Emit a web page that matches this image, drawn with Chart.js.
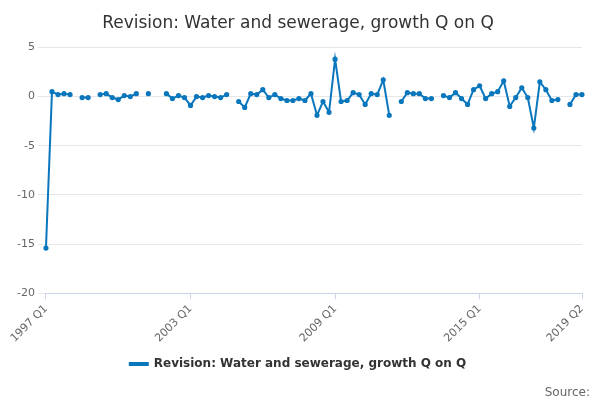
<!DOCTYPE html>
<html><head><meta charset="utf-8">
<script src="https://cdn.jsdelivr.net/npm/chart.js@4/dist/chart.umd.min.js"></script>
<style>body{margin:0;background:#fff}#w{position:relative;width:600px;height:400px}</style>
</head><body><div id="w"><canvas id="c" width="600" height="400"></canvas></div>
<script>
const startYear = 1997, count = 90;
const tickIdx = [0, 24, 48, 72, 89];
const values = [
-15.4,0.5,0.2,0.3,0.2,null,-0.1,-0.1,null,0.2,
0.3,-0.1,-0.3,0.1,0,0.3,null,0.3,null,null,
0.3,-0.2,0.1,-0.1,-0.9,0,-0.1,0.1,0,-0.1,
0.2,null,-0.5,-1.1,0.3,0.2,0.7,-0.1,0.2,-0.2,
-0.4,-0.4,-0.2,-0.4,0.3,-1.9,-0.5,-1.6,3.8,-0.5,
-0.4,0.4,0.2,-0.8,0.3,0.2,1.7,-1.9,null,-0.5,
0.4,0.3,0.3,-0.2,-0.2,null,0.1,-0.1,0.4,-0.2,
-0.8,0.7,1.1,-0.2,0.3,0.5,1.6,-1.0,-0.1,0.9,
-0.1,-3.2,1.5,0.7,-0.4,-0.3,null,-0.8,0.2,0.2];
const labels = [];
for (let i = 0; i < count; i++) labels.push((startYear + Math.floor(i/4)) + ' Q' + (i%4+1));
const F = "'DejaVu Sans', sans-serif";
new Chart(document.getElementById('c'), {
  type: 'line',
  data: { labels, datasets: [{ label: 'Revision: Water and sewerage, growth Q on Q', data: values,
    borderColor: '#0a77bd', backgroundColor: '#0a77bd', borderWidth: 2, pointRadius: 1.6, pointHoverRadius: 1.6, spanGaps: false, tension: 0 }] },
  options: {
    responsive: false, animation: false,
    layout: { padding: { left: 14, right: 18, top: 5, bottom: 20 } },
    plugins: {
      title: { display: true, text: 'Revision: Water and sewerage, growth Q on Q', color: '#333', font: { family: F, size: 17, weight: 'normal' }, padding: { top: 8, bottom: 14 } },
      legend: { position: 'bottom', labels: { color: '#333', font: { family: F, size: 12, weight: 'bold' }, boxWidth: 18, boxHeight: 2 } },
      tooltip: { enabled: false }
    },
    scales: {
      x: { grid: { display: true, drawOnChartArea: false, color: '#ccd6eb', tickLength: 6 },
        border: { color: '#ccd6eb' },
        ticks: { autoSkip: false, maxRotation: 45, minRotation: 45, color: '#666', font: { family: F, size: 11 },
          callback: (v, i) => tickIdx.includes(i) ? labels[i] : null } },
      y: { min: -20, max: 5, ticks: { stepSize: 5, color: '#666', font: { family: F, size: 11 } },
        grid: { color: '#e6e6e6' }, border: { display: false } }
    }
  },
  plugins: [{ id: 'src', afterDraw(ch) { const c = ch.ctx; c.save(); c.font = "12px " + F; c.fillStyle = '#666'; c.textAlign = 'right'; c.fillText('Source:', 590, 393); c.restore(); } }]
});
</script></body></html>
